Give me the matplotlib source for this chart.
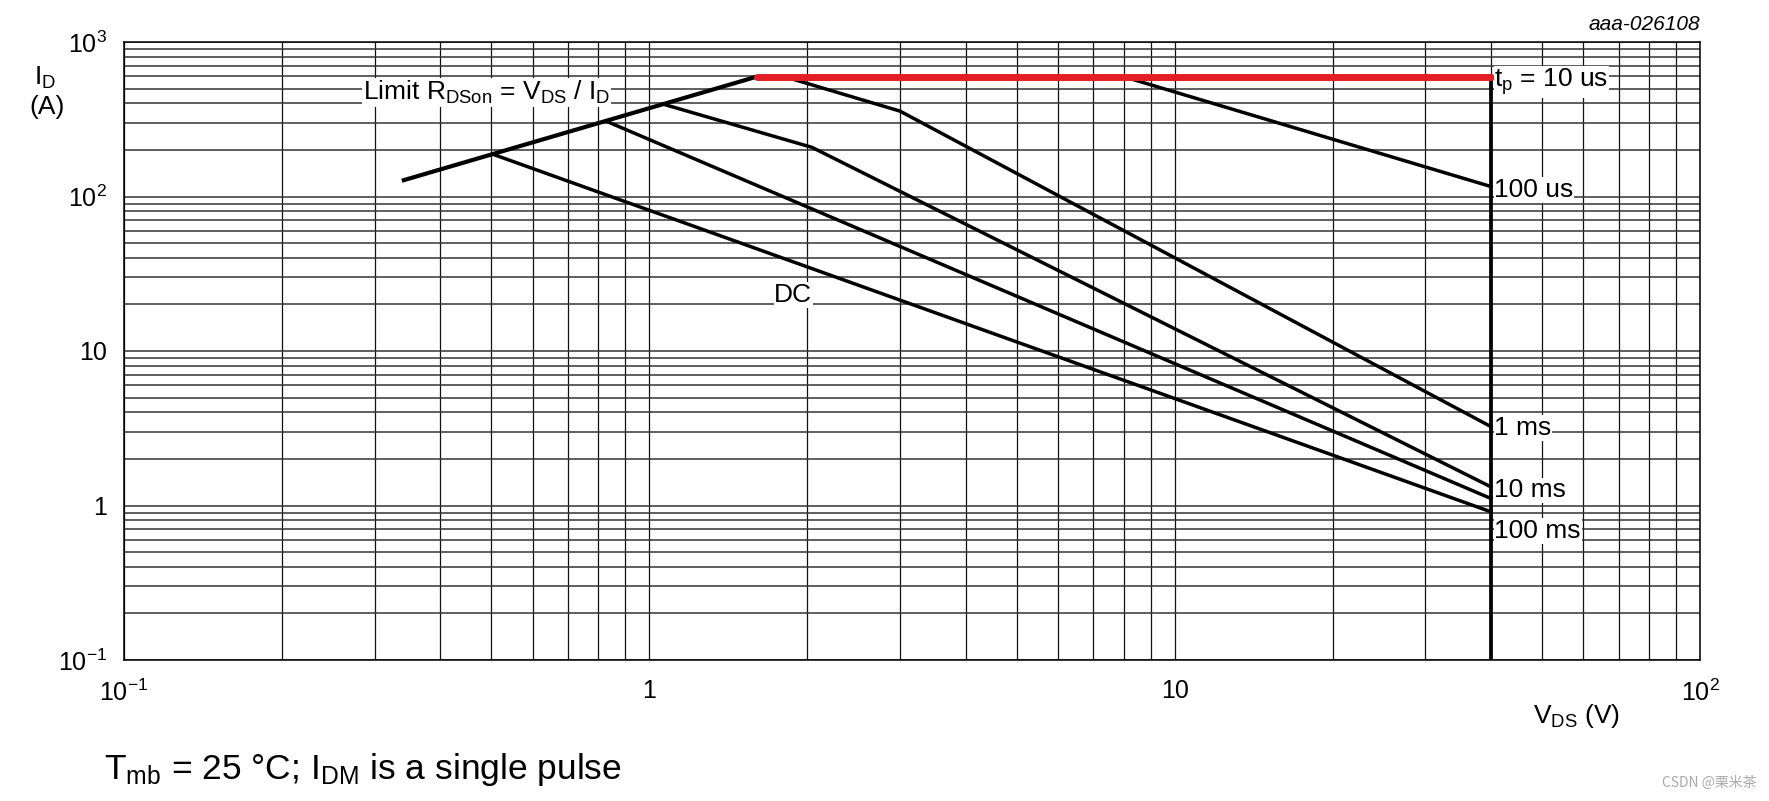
import matplotlib
matplotlib.use('Agg')
import matplotlib.pyplot as plt
from matplotlib import font_manager
from matplotlib.ticker import LogLocator, NullFormatter, FixedLocator

# pick a condensed sans if the system has it
try:
    font_manager.findfont('Liberation Sans Narrow', fallback_to_default=False)
    FONT = 'Liberation Sans Narrow'
except ValueError:
    FONT = 'Liberation Sans'

plt.rcParams['font.family'] = [FONT, 'DejaVu Sans']
plt.rcParams['mathtext.fontset'] = 'custom'
plt.rcParams['mathtext.rm'] = FONT
plt.rcParams['mathtext.it'] = FONT + ':italic'

# Safe operating area data (V_DS in V, I_D in A)
rdson_v = [0.338, 1.6]
rdson_i = [126.5, 596]
limit_v = [1.6, 40]
limit_i = [596, 596]
vmax_v = [40, 40]
vmax_i = [0.1, 596]
us100_v = [8.0, 40]
us100_i = [596, 116]
ms1_v = [1.81, 3.0, 40]
ms1_i = [596, 357, 3.24]
ms10_v = [1.06, 2.04, 40]
ms10_i = [397, 208, 1.32]
ms100_v = [0.832, 40]
ms100_i = [305, 1.11]
dc_v = [0.503, 40]
dc_i = [188, 0.91]

xticks = [0.1, 1, 10, 100]
xticklabels = ['$10^{-1}$', '1', '10', '$10^{2}$']
yticks = [0.1, 1, 10, 100, 1000]
yticklabels = ['$10^{-1}$', '1', '10', '$10^{2}$', '$10^{3}$']

fig = plt.figure(figsize=(17.69, 8.01), dpi=100)
ax = fig.add_axes([124 / 1769, 1 - 660 / 801, 1576 / 1769, 618 / 801])
ax.set_xscale('log')
ax.set_yscale('log')
ax.set_xlim(0.1, 100)
ax.set_ylim(0.1, 1000)

# grid on every decade subdivision
ax.xaxis.set_major_locator(FixedLocator(xticks))
ax.yaxis.set_major_locator(FixedLocator(yticks))
ax.xaxis.set_minor_locator(LogLocator(base=10, subs=range(2, 10)))
ax.yaxis.set_minor_locator(LogLocator(base=10, subs=range(2, 10)))
ax.xaxis.set_minor_formatter(NullFormatter())
ax.yaxis.set_minor_formatter(NullFormatter())
ax.set_xticklabels(xticklabels)
ax.set_yticklabels(yticklabels)
ax.grid(True, which='both', axis='x', color='#111111', lw=0.9)
ax.grid(True, which='both', axis='y', color='#333333', lw=1.1)
ax.set_axisbelow(True)
ax.tick_params(which='both', length=0)
ax.tick_params(axis='y', pad=12, labelsize=18)
ax.tick_params(axis='x', pad=14, labelsize=18)
for s in ax.spines.values():
    s.set_color('black')
    s.set_linewidth(1.1)

# curves
ax.plot(rdson_v, rdson_i, color='black', lw=3.0, solid_capstyle='butt')
ax.plot(us100_v, us100_i, color='black', lw=2.5)
ax.plot(ms1_v, ms1_i, color='black', lw=2.5)
ax.plot(ms10_v, ms10_i, color='black', lw=2.5)
ax.plot(ms100_v, ms100_i, color='black', lw=2.5)
ax.plot(dc_v, dc_i, color='black', lw=2.5)
ax.plot(vmax_v, vmax_i, color='black', lw=2.7, solid_capstyle='butt')
ax.plot(limit_v, limit_i, color='#e31e24', lw=5.0, solid_capstyle='round')

box = dict(facecolor='white', edgecolor='none', pad=0.5)
lab = dict(fontsize=19, bbox=box, va='baseline', ha='left')
ax.text(0.285, 422, r'Limit R$_\mathrm{DSon}$ = V$_\mathrm{DS}$ / I$_\mathrm{D}$', **lab)
ax.text(40.6, 512, r't$_\mathrm{p}$ = 10 us', **lab)
ax.text(40.6, 99, '100 us', **lab)
ax.text(40.6, 2.86, '1 ms', **lab)
ax.text(40.6, 1.13, '10 ms', **lab)
ax.text(40.6, 0.617, '100 ms', **lab)
ax.text(1.88, 20.8, 'DC', fontsize=19, bbox=box, va='baseline', ha='center')

# axis titles
fig.text(45 / 1769, 1 - 78 / 801, r'I$_\mathrm{D}$', fontsize=19, ha='center', va='center')
fig.text(47 / 1769, 1 - 107 / 801, '(A)', fontsize=19, ha='center', va='center')
fig.text(1577 / 1769, 1 - 716 / 801, r'V$_\mathrm{DS}$ (V)', fontsize=19, ha='center', va='center')
fig.text(1700 / 1769, 1 - 25 / 801, 'aaa-026108', fontsize=15, style='italic',
         ha='right', va='center')
fig.text(104 / 1769, 1 - 770 / 801, r'T$_\mathrm{mb}$ = 25 °C; I$_\mathrm{DM}$ is a single pulse',
         fontsize=25.5, ha='left', va='center')
fig.text(1756 / 1769, 1 - 783 / 801, 'CSDN @栗米茶', fontsize=10, color='#aaaaaa',
         ha='right', va='center', family=['Noto Sans CJK SC', 'DejaVu Sans'])

fig.savefig('out.png', dpi=100)
